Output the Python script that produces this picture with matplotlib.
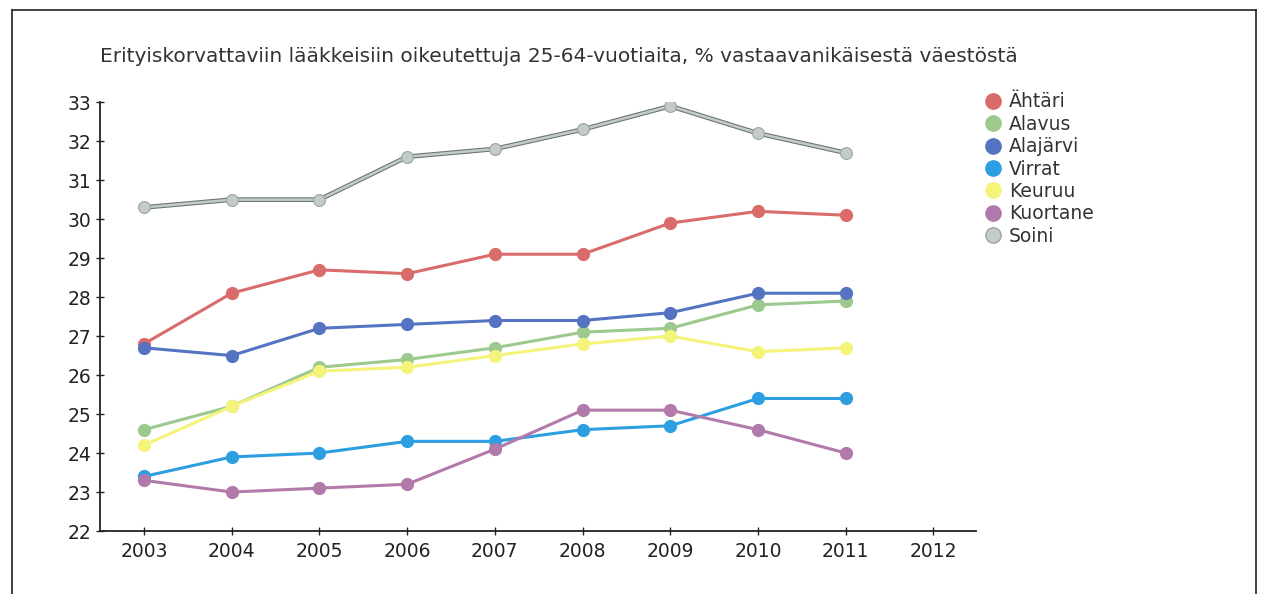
import matplotlib.pyplot as plt
import matplotlib.patheffects as pe
from matplotlib.lines import Line2D

years = [2003, 2004, 2005, 2006, 2007, 2008, 2009, 2010, 2011]
ahtari = [26.8, 28.1, 28.7, 28.6, 29.1, 29.1, 29.9, 30.2, 30.1]
alavus = [24.6, 25.2, 26.2, 26.4, 26.7, 27.1, 27.2, 27.8, 27.9]
alajarvi = [26.7, 26.5, 27.2, 27.3, 27.4, 27.4, 27.6, 28.1, 28.1]
virrat = [23.4, 23.9, 24.0, 24.3, 24.3, 24.6, 24.7, 25.4, 25.4]
keuruu = [24.2, 25.2, 26.1, 26.2, 26.5, 26.8, 27.0, 26.6, 26.7]
kuortane = [23.3, 23.0, 23.1, 23.2, 24.1, 25.1, 25.1, 24.6, 24.0]
soini = [30.3, 30.5, 30.5, 31.6, 31.8, 32.3, 32.9, 32.2, 31.7]

names = ['Ähtäri', 'Alavus', 'Alajärvi', 'Virrat', 'Keuruu', 'Kuortane', 'Soini']
series = [ahtari, alavus, alajarvi, virrat, keuruu, kuortane, soini]
colors = ['#d96b6b', '#9cc98e', '#5473c0', '#2d9ee0', '#f4f47a', '#b27aab', '#c3cbcb']

xticks = list(range(2003, 2013))
yticks = list(range(22, 34))

title = 'Erityiskorvattaviin lääkkeisiin oikeutettuja 25-64-vuotiaita, % vastaavanikäisestä väestöstä'


def main():
    fig = plt.figure(figsize=(12.67, 5.94), dpi=100)
    ax = fig.add_axes([0.079, 0.106, 0.691, 0.722])

    handles = []
    for name, vals, col in zip(names, series, colors):
        if name == 'Soini':
            # light line with a dark edge, markers drawn on top without the edge
            ax.plot(years, vals, color=col, linewidth=1.8, zorder=3,
                    path_effects=[pe.Stroke(linewidth=3.4, foreground='#6d7676'), pe.Normal()])
            ax.plot(years, vals, linestyle='none', marker='o', markersize=8.5, color=col,
                    markeredgecolor='#9aa4a4', markeredgewidth=0.8, zorder=4)
            edge = '#9aa4a4'
        else:
            ax.plot(years, vals, color=col, linewidth=2.2, marker='o', markersize=8.5,
                    markeredgecolor=col, zorder=3)
            edge = col
        handles.append(Line2D([], [], linestyle='none', marker='o', markersize=11,
                              color=col, markeredgecolor=edge))

    ax.set_xlim(2002.5, 2012.48)
    ax.set_ylim(22, 33)
    ax.set_xticks(xticks)
    ax.set_yticks(yticks)
    ax.tick_params(labelsize=13.5, colors='#222222', direction='inout', length=6, width=1)
    ax.tick_params(axis='x', pad=5)
    ax.spines['top'].set_visible(False)
    ax.spines['right'].set_visible(False)
    for s in ['left', 'bottom']:
        ax.spines[s].set_color('#222222')
        ax.spines[s].set_linewidth(1.3)

    fig.text(0.079, 0.895, title, fontsize=14.5, color='#333333')

    leg = fig.legend(handles, names, loc='upper left', bbox_to_anchor=(0.772, 0.857),
                     frameon=False, fontsize=13.5, handlelength=0.8, handletextpad=0.45,
                     labelspacing=0.18, borderaxespad=0)
    for t in leg.get_texts():
        t.set_color('#333333')

    # scanned page frame
    fig.add_artist(Line2D([0.0095, 0.991], [0.983, 0.983], color='#222222', linewidth=1.2))
    fig.add_artist(Line2D([0.0095, 0.0095], [0.983, 0.0], color='#222222', linewidth=1.2))
    fig.add_artist(Line2D([0.991, 0.991], [0.983, 0.0], color='#222222', linewidth=1.2))

    fig.savefig('out.png', dpi=100)


if __name__ == "__main__":
    main()
